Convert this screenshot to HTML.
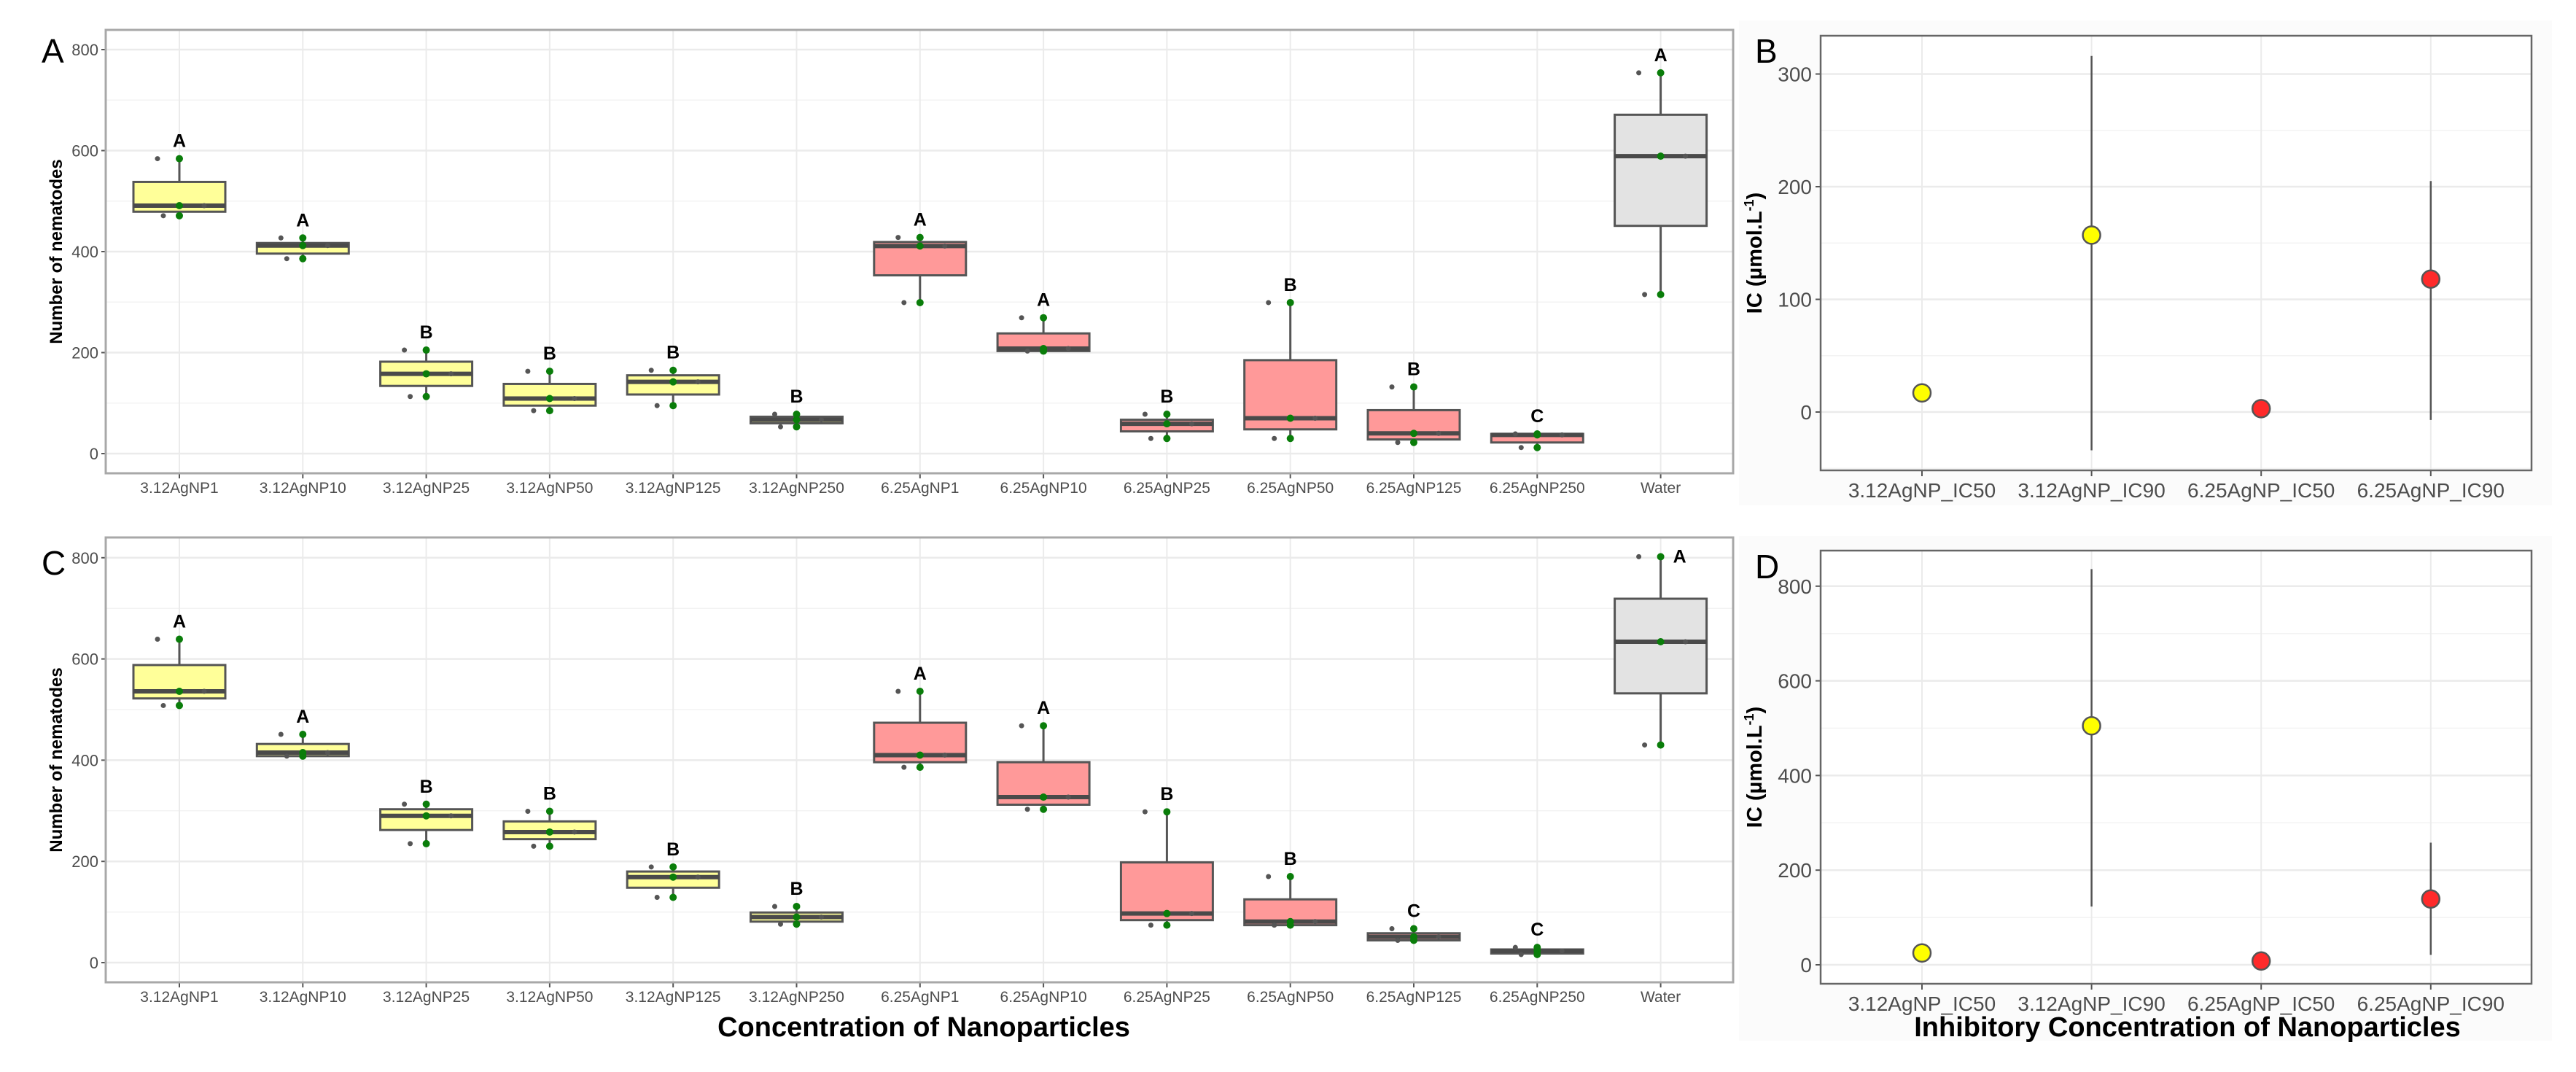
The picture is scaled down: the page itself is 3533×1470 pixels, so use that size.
<!DOCTYPE html>
<html><head><meta charset="utf-8">
<style>
html,body{margin:0;padding:0;background:#fff;}
svg{display:block;font-family:"Liberation Sans",Arial,sans-serif;}
</style></head>
<body>
<svg id="fig" width="3533" height="1470" viewBox="0 0 3533 1470" xmlns="http://www.w3.org/2000/svg">
<rect x="2385" y="28" width="1115" height="665" fill="#fbfbfb"/>
<rect x="2385" y="735" width="1115" height="692" fill="#fbfbfb"/>
<g id="root"></g>
</svg>
<script>
const categories = ["3.12AgNP1","3.12AgNP10","3.12AgNP25","3.12AgNP50","3.12AgNP125","3.12AgNP250","6.25AgNP1","6.25AgNP10","6.25AgNP25","6.25AgNP50","6.25AgNP125","6.25AgNP250","Water"];
const groupColor = ["y","y","y","y","y","y","r","r","r","r","r","r","g"];
// Panel A box stats
const aQ1 = [479,396,134,95,117,60,353,203,44,48,28,22,451];
const aMed = [491,412,158,109,142,67,411,208,59,70,40,37,589];
const aQ3 = [538,417,182,138,155,73,419,238,67,185,86,39,671];
const aLow = [471,386,113,85,95,53,299,203,30,30,22,12,315];
const aHigh = [584,427,205,163,165,78,428,269,78,299,132,39,754];
const aLetters = ["A","A","B","B","B","B","A","A","B","B","B","C","A"];
// Panel C box stats
const cQ1 = [522,408,262,244,148,81,396,312,84,74,44,18,532];
const cMed = [536,415,290,258,169,90,410,327,97,81,51,23,634];
const cQ3 = [588,432,303,279,180,99,474,396,198,125,58,26,719];
const cLow = [508,408,235,230,129,76,386,303,74,74,44,16,430];
const cHigh = [639,451,313,299,189,111,536,468,298,170,67,30,802];
const cLetters = ["A","A","B","B","B","B","A","A","B","B","C","C","A"];
const yTicksBox = [0,200,400,600,800];
// Panel B / D
const icCats = ["3.12AgNP_IC50","3.12AgNP_IC90","6.25AgNP_IC50","6.25AgNP_IC90"];
const icColor = ["#ffff00","#ffff00","#ff2a2a","#ff2a2a"];
const bVal = [17,157,3,118];
const bLo = [10,-34,0,-7];
const bHi = [25,316,6,205];
const bTicks = [0,100,200,300];
const dVal = [25,505,8,139];
const dLo = [18,123,2,21];
const dHi = [32,836,14,258];
const dTicks = [0,200,400,600,800];

const NS = "http://www.w3.org/2000/svg";
const root = document.getElementById("root");
function mk(tag, attrs, parent, text){
  const e = document.createElementNS(NS, tag);
  for (const k in attrs) e.setAttribute(k, attrs[k]);
  if (text !== undefined) e.textContent = text;
  (parent || root).appendChild(e);
  return e;
}
const fills = {y:"#ffff99", r:"#ff9999", g:"#e3e3e3"};

function boxPanel(cfg){
  const g = mk("g", {});
  
  
  const L=145, R=2377, T=cfg.top, B=cfg.bottom;
  const y = v => cfg.y0 - v*cfg.k;
  const x = i => 246 + i*169.3;
  for (let v=100; v<=700; v+=200){ mk("line",{x1:L,x2:R,y1:y(v),y2:y(v),stroke:"#f3f3f3","stroke-width":1.5},g); }
  yTicksBox.forEach(v=>{
    mk("line",{x1:L,x2:R,y1:y(v),y2:y(v),stroke:"#ebebeb","stroke-width":2.5},g);
    const t = mk("text",{x:L-10,y:y(v)+8,"text-anchor":"end","font-size":22,fill:"#4d4d4d"},g,String(v));
    
    
    mk("line",{x1:L-6,x2:L,y1:y(v),y2:y(v),stroke:"#555","stroke-width":2},g);
  });
  categories.forEach((c,i)=>{
    mk("line",{x1:x(i),x2:x(i),y1:T,y2:B,stroke:"#ebebeb","stroke-width":2},g);
    mk("line",{x1:x(i),x2:x(i),y1:B,y2:B+7,stroke:"#555","stroke-width":2},g);
    const t = mk("text",{x:x(i),y:B+27,"text-anchor":"middle","font-size":21,fill:"#4d4d4d"},g,c);
    
    
  });
  mk("rect",{x:L,y:T,width:R-L,height:B-T,fill:"none",stroke:"#a8a8a8","stroke-width":3},g);
  const hw = 63;
  categories.forEach((c,i)=>{
    const bg = mk("g",{},g);
    
    
    const cx = x(i);
    mk("line",{x1:cx,x2:cx,y1:y(cfg.high[i]),y2:y(cfg.q3[i]),stroke:"#555","stroke-width":3},bg);
    mk("line",{x1:cx,x2:cx,y1:y(cfg.q1[i]),y2:y(cfg.low[i]),stroke:"#555","stroke-width":3},bg);
    mk("rect",{x:cx-hw,y:y(cfg.q3[i]),width:2*hw,height:Math.max(2,y(cfg.q1[i])-y(cfg.q3[i])),fill:fills[groupColor[i]],stroke:"#555","stroke-width":3},bg);
    mk("line",{x1:cx-hw,x2:cx+hw,y1:y(cfg.med[i]),y2:y(cfg.med[i]),stroke:"#4a4a4a","stroke-width":6},bg);
    const pts=[cfg.high[i],cfg.med[i],cfg.low[i]];
    pts.forEach((v,j)=>{
      const off=[-30,34,-22][j];
      mk("circle",{cx:cx+off,cy:y(v),r:3.5,fill:"#555"},bg);
      mk("circle",{cx:cx,cy:y(v),r:5,fill:"#0a7d0a"},bg);
    });
    const side = cfg.sideLast && i === categories.length-1;
    const lt = mk("text",{x:side?cx+26:cx,y:side?y(cfg.high[i])+8:y(cfg.high[i])-16,"text-anchor":"middle","font-size":25,"font-weight":"bold",fill:"#000"},bg,cfg.letters[i]);
    
    
  });
  const yt = mk("text",{x:0,y:0,transform:`translate(${cfg.titleX},${(T+B)/2}) rotate(-90)`,"text-anchor":"middle","font-size":24,"font-weight":"bold",fill:"#000"},g,"Number of nematodes");
  
  
  const pl = mk("text",{x:57,y:cfg.labelY,"font-size":46,fill:"#000"},g,cfg.label);
  
  
}

boxPanel({name:"panel-a",top:41,bottom:649,y0:622,k:0.6925,q1:aQ1,med:aMed,q3:aQ3,low:aLow,high:aHigh,letters:aLetters,titleX:85,label:"A",labelY:86,sideLast:false});
boxPanel({name:"panel-c",top:737,bottom:1347,y0:1320,k:0.694,q1:cQ1,med:cMed,q3:cQ3,low:cLow,high:cHigh,letters:cLetters,titleX:85,label:"C",labelY:788,sideLast:true});

function icPanel(cfg){
  const g = mk("g", {});
  
  
  const L=2497, R=3472, T=cfg.top, B=cfg.bottom;
  const y = v => cfg.y0 - v*cfg.k;
  const x = i => 2636 + i*232.6;
  mk("rect",{x:L,y:T,width:R-L,height:B-T,fill:"#fff"},g);
  const step = cfg.ticks[1]-cfg.ticks[0];
  cfg.ticks.forEach(v=>{
    if (y(v+step/2) > T) mk("line",{x1:L,x2:R,y1:y(v+step/2),y2:y(v+step/2),stroke:"#f3f3f3","stroke-width":1.5},g);
    mk("line",{x1:L,x2:R,y1:y(v),y2:y(v),stroke:"#ebebeb","stroke-width":2.5},g);
    mk("line",{x1:L-7,x2:L,y1:y(v),y2:y(v),stroke:"#555","stroke-width":2},g);
    const t = mk("text",{x:L-12,y:y(v)+10,"text-anchor":"end","font-size":28,fill:"#4d4d4d"},g,String(v));
    
    
  });
  if (y(-step/2) < B) mk("line",{x1:L,x2:R,y1:y(-step/2),y2:y(-step/2),stroke:"#f3f3f3","stroke-width":1.5},g);
  icCats.forEach((c,i)=>{
    mk("line",{x1:x(i),x2:x(i),y1:T,y2:B,stroke:"#ebebeb","stroke-width":2},g);
    mk("line",{x1:x(i),x2:x(i),y1:B,y2:B+8,stroke:"#555","stroke-width":2},g);
    const t = mk("text",{x:x(i),y:B+37,"text-anchor":"middle","font-size":28,fill:"#4d4d4d"},g,c);
    
    
  });
  mk("rect",{x:L,y:T,width:R-L,height:B-T,fill:"none",stroke:"#666","stroke-width":2.5},g);
  icCats.forEach((c,i)=>{
    const pg = mk("g",{},g);
    
    
    mk("line",{x1:x(i),x2:x(i),y1:y(cfg.hi[i]),y2:y(cfg.lo[i]),stroke:"#555","stroke-width":2.5},pg);
    mk("circle",{cx:x(i),cy:y(cfg.val[i]),r:12,fill:icColor[i],stroke:"#555","stroke-width":2.5},pg);
  });
  const yt = mk("text",{x:0,y:0,transform:`translate(2416,${(T+B)/2}) rotate(-90)`,"text-anchor":"middle","font-size":29,"font-weight":"bold",fill:"#000"},g);
  
  
  yt.appendChild(document.createTextNode("IC (µmol.L"));
  mk("tspan",{"font-size":18,dy:-11},yt,"-1");
  mk("tspan",{"font-size":29,dy:11},yt,")");
  const pl = mk("text",{x:2407,y:cfg.labelY,"font-size":46,fill:"#000"},g,cfg.label);
  
  
}
icPanel({name:"panel-b",top:49,bottom:645,y0:565,k:1.545,ticks:bTicks,val:bVal,lo:bLo,hi:bHi,label:"B",labelY:86});
icPanel({name:"panel-d",top:755,bottom:1349,y0:1323,k:0.649,ticks:dTicks,val:dVal,lo:dLo,hi:dHi,label:"D",labelY:793});

const xt1 = mk("text",{x:1267,y:1421,"text-anchor":"middle","font-size":38,"font-weight":"bold",fill:"#000"},root,"Concentration of Nanoparticles");


const xt2 = mk("text",{x:3000,y:1421,"text-anchor":"middle","font-size":38,"font-weight":"bold",fill:"#000"},root,"Inhibitory Concentration of Nanoparticles");


</script>
</body></html>
